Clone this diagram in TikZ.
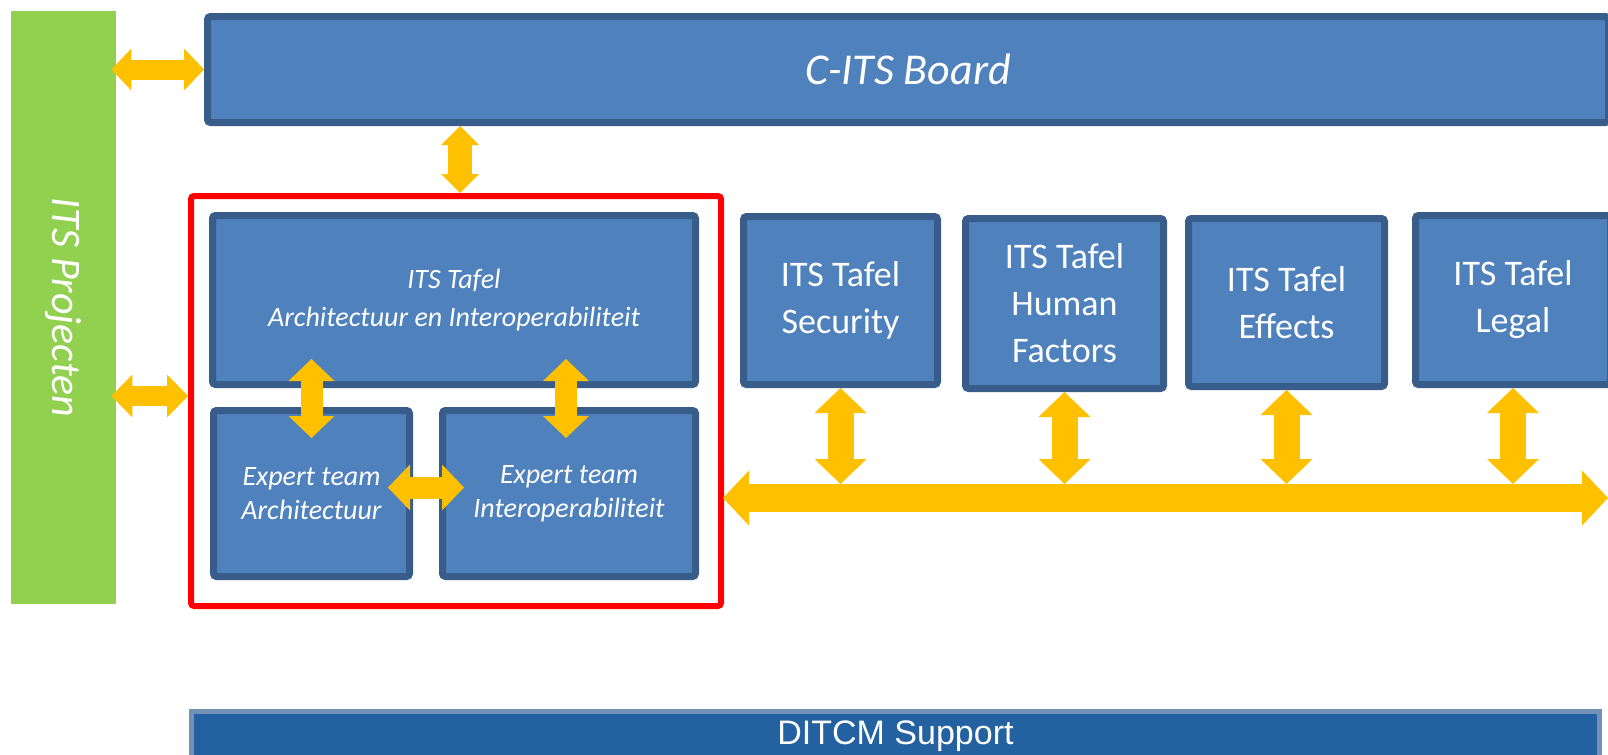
\documentclass[tikz,border=0pt]{standalone}
\usepackage{fontspec}
\setmainfont{Carlito}
\newfontfamily\ditcmfont{Liberation Sans}
\usetikzlibrary{arrows.meta}

\definecolor{tafelblauw}{HTML}{4F81BD}
\definecolor{tafelrand}{HTML}{385D8A}
\definecolor{pijlgeel}{HTML}{FFC000}
\definecolor{projgroen}{HTML}{92D050}
\definecolor{ditcmblauw}{RGB}{36,97,160}
\definecolor{ditcmrand}{RGB}{115,145,180}

\tikzset{
  tafel/.style={draw=tafelrand, fill=tafelblauw, line width=3.5pt, rounded corners=1.5pt,
    text=white, align=center, inner sep=0pt},
  tafeltekst/.style={font=\fontsize{18}{23.5}\selectfont},
  experttekst/.style={font=\itshape\fontsize{14}{17}\selectfont},
  pijl/.style n args={3}{draw=pijlgeel, line width=#1,
    {Triangle[width=#2,length=#3,line width=0pt]}-{Triangle[width=#2,length=#3,line width=0pt]}}
}

\begin{document}
\begin{tikzpicture}[x=0.5pt,y=-0.5pt]
  \useasboundingbox (0,0) rectangle (1608,755);

  % zijbalk en board
  \node[fill=projgroen, rotate=-90, minimum width=296.5pt, minimum height=52.5pt, inner sep=0pt,
    text=white, font=\itshape\fontsize{21}{25}\selectfont] (projecten) at (63.5,307.5) {ITS Projecten};
  \node[tafel, minimum width=700.5pt, minimum height=53pt, font=\itshape\fontsize{22}{26}\selectfont]
    (board) at (908,69.5) {C-ITS Board};

  % tafel architectuur met expert teams
  \node[draw=red, line width=3pt, rounded corners=1.5pt, minimum width=265pt, minimum height=205pt]
    (kader) at (456,401) {};
  \node[tafel, experttekst, minimum width=241.5pt, minimum height=84.5pt, font=\fontsize{14}{19}\selectfont\itshape]
    (tafelAI) at (454,300) {ITS Tafel\\Architectuur en Interoperabiliteit};
  \node[tafel, experttekst, minimum width=98pt, minimum height=83pt]
    (expArch) at (311.5,493.5) {Expert team\\Architectuur};
  \node[tafel, experttekst, minimum width=126.5pt, minimum height=83pt]
    (expInt) at (569,493.5) {Expert team\\Interoperabiliteit};

  % overige tafels
  \node[tafel, tafeltekst, minimum width=97pt, minimum height=84pt]
    (security) at (840.5,300.5) {ITS Tafel\\Security};
  \node[tafel, tafeltekst, minimum width=99pt, minimum height=85pt]
    (human) at (1064.5,303.5) {ITS Tafel\\Human\\Factors};
  \node[tafel, tafeltekst, minimum width=98pt, minimum height=84pt]
    (effects) at (1286.5,302.5) {ITS Tafel\\Effects};
  \node[tafel, tafeltekst, minimum width=97.5pt, minimum height=84.5pt]
    (legal) at (1513,300) {ITS Tafel\\Legal};

  \node[fill=ditcmblauw, draw=ditcmrand, line width=2.5pt, minimum width=704pt, minimum height=25pt,
    inner sep=0pt, text=white, font=\ditcmfont\fontsize{17}{20}\selectfont]
    (ditcm) at (895.5,736) {DITCM Support};

  % pijlen
  \coordinate (busL) at (723,498);
  \coordinate (busR) at (1608,498);
  \draw[pijl={10pt}{21pt}{10pt}] ([xshift=-2.5pt]projecten.north |- board.west) -- (board.west);
  \draw[pijl={10pt}{21.5pt}{10.5pt}] ([xshift=-2.5pt,yshift=2.5pt]projecten.north |- kader.west)
    -- ([yshift=2.5pt]kader.west);
  \draw[pijl={12pt}{19pt}{9.5pt}] ([xshift=3pt]tafelAI.north |- board.south)
    -- ([xshift=3pt]tafelAI.north |- kader.north);
  \draw[pijl={11pt}{23pt}{11pt}, shorten <=-14.5pt, shorten >=-15.5pt]
    (expArch.north |- tafelAI.south) -- (expArch.north);
  \draw[pijl={11pt}{23pt}{11pt}, shorten <=-14.5pt, shorten >=-15.5pt]
    ([xshift=-1.5pt]expInt.north |- tafelAI.south) -- ([xshift=-1.5pt]expInt.north);
  \draw[pijl={11pt}{23pt}{11pt}, shorten <=-12.5pt, shorten >=-12.5pt]
    ([yshift=3pt]expArch.east) -- ([yshift=3pt]expInt.west);
  \draw[pijl={14pt}{27.5pt}{13pt}] (busL) -- (busR);
  \foreach \tafel in {security,human,effects,legal}
    \draw[pijl={13pt}{26pt}{12.5pt}, shorten >=7pt] (\tafel.south) -- (\tafel.south |- busL);
\end{tikzpicture}
\end{document}
